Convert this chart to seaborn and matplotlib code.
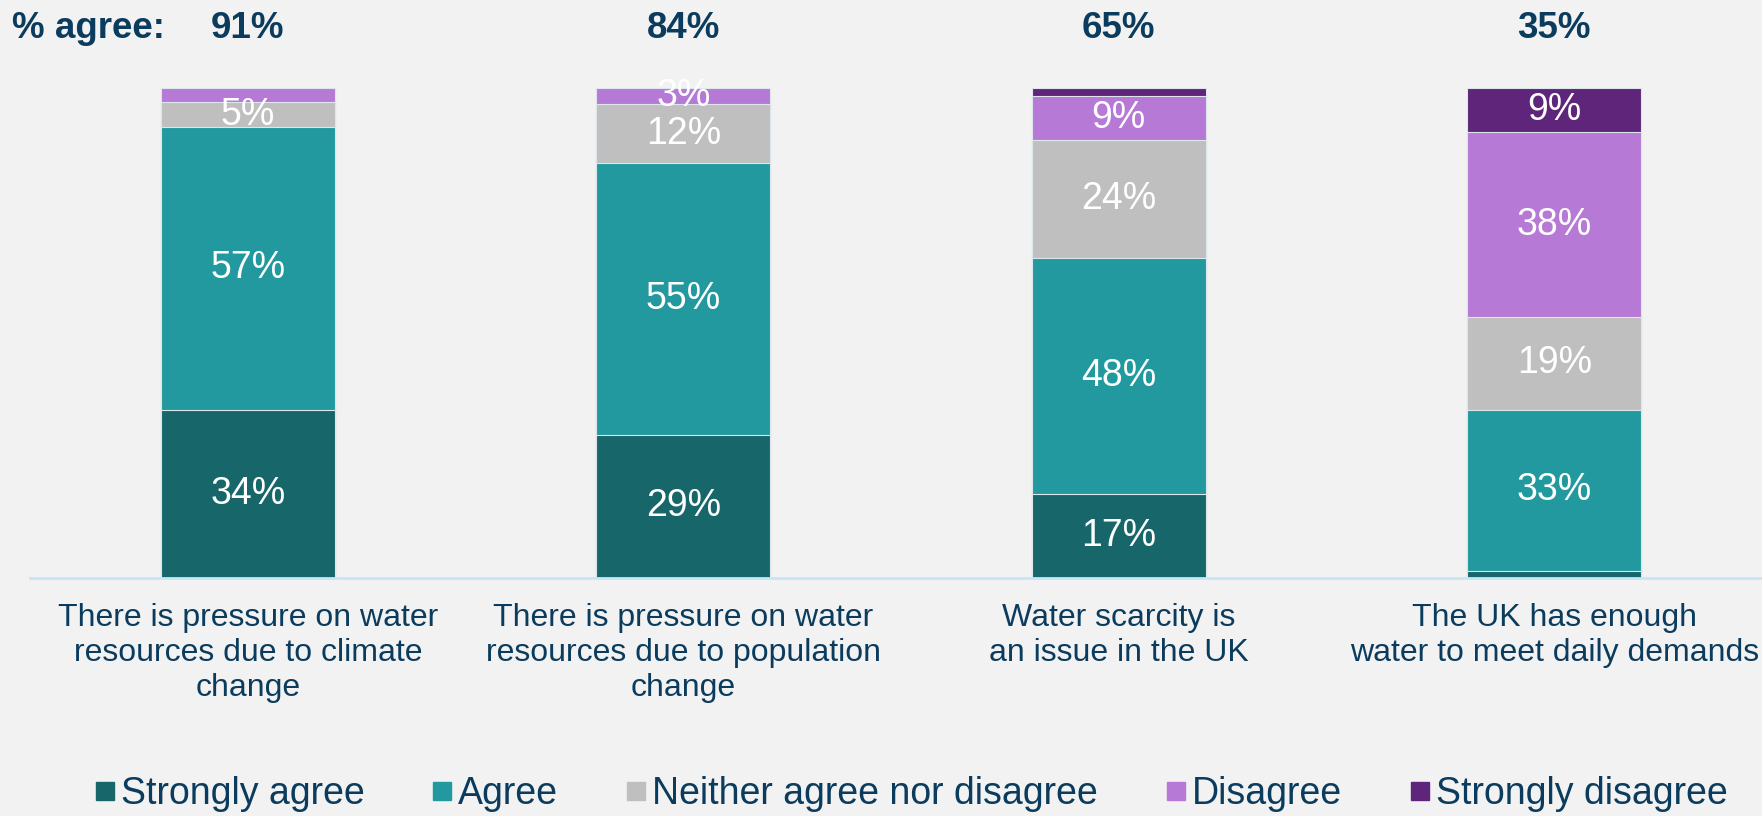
import matplotlib
matplotlib.use("Agg")
import matplotlib.pyplot as plt
from matplotlib.lines import Line2D
import seaborn as sns
import numpy as np
import pandas as pd

categories = [
    "There is pressure on water\nresources due to climate\nchange",
    "There is pressure on water\nresources due to population\nchange",
    "Water scarcity is\nan issue in the UK",
    "The UK has enough\nwater to meet daily demands",
]
series = ["Strongly agree", "Agree", "Neither agree nor disagree", "Disagree", "Strongly disagree"]
strongly_agree = [34, 29, 17, 1.5]
agree = [57, 55, 48, 33]
neither = [5, 12, 24, 19]
disagree = [2.9, 3.3, 9, 38]
strongly_disagree = [0, 0, 1.6, 9]
agree_totals = ["91%", "84%", "65%", "35%"]
colors = ["#17676a", "#22999e", "#bfbfbf", "#b679d6", "#5f257a"]

navy = "#0b3c5d"
bg = "#f2f2f2"

sns.set_theme(style="white")
plt.rcParams["font.family"] = ["Liberation Sans", "DejaVu Sans"]

vals = np.array([strongly_agree, agree, neither, disagree, strongly_disagree], dtype=float)
shares = vals / vals.sum(axis=0) * 100
cum = np.cumsum(shares, axis=0)

fig = plt.figure(figsize=(17.62, 8.16), dpi=100, facecolor=bg)
ax = fig.add_axes([30 / 1762, (816 - 578) / 816, 1 - 30 / 1762, (578 - 88) / 816])
ax.set_facecolor(bg)

# draw cumulative bars from top layer down
for i in range(len(series) - 1, -1, -1):
    df = pd.DataFrame({"cat": categories, "val": cum[i]})
    sns.barplot(data=df, x="cat", y="val", color=colors[i], width=0.4, ax=ax,
                saturation=1, edgecolor="#dde6ea", linewidth=0.8, order=categories)

# segment labels
for i in range(len(series)):
    for j in range(len(categories)):
        v = vals[i, j]
        if v >= 3:
            yc = cum[i, j] - shares[i, j] / 2
            ax.text(j, yc, f"{int(round(v))}%", ha="center", va="center",
                    color="white", fontsize=27)

ax.set_ylim(0, 100)
ax.set_xlim(-0.5, 3.477)
ax.set_xlabel("")
ax.set_ylabel("")
ax.set_yticks([])
ax.set_xticks([])
for s in ["top", "right", "left"]:
    ax.spines[s].set_visible(False)
ax.spines["bottom"].set_color("#c5e6f7")
ax.spines["bottom"].set_linewidth(2)

# category labels
for j, c in enumerate(categories):
    ax.annotate(c, xy=(j, 0), xycoords="data", xytext=(0, -18), textcoords="offset points",
                ha="center", va="top", fontsize=23, color=navy, linespacing=1.22,
                annotation_clip=False)

# header
fig.text(12 / 1762, 1 - 28 / 816, "% agree:", ha="left", va="center",
         fontsize=26.5, fontweight="bold", color=navy)
for j, t in enumerate(agree_totals):
    xd = ax.transData.transform((j, 0))[0]
    fig.text(xd / 1762, 1 - 28 / 816, t, ha="center", va="center",
             fontsize=26.5, fontweight="bold", color=navy)

handles = [Line2D([0], [0], marker="s", linestyle="", markersize=13.5,
                  markerfacecolor=c, markeredgecolor=c) for c in colors]
leg = fig.legend(handles, series, loc="center", bbox_to_anchor=(0.517, 1 - 794 / 816),
                 ncol=5, frameon=False, handlelength=0.55, handletextpad=0.15,
                 columnspacing=1.8, prop={"size": 27})
for t in leg.get_texts():
    t.set_color(navy)

fig.savefig("out.png", dpi=100, facecolor=bg)
